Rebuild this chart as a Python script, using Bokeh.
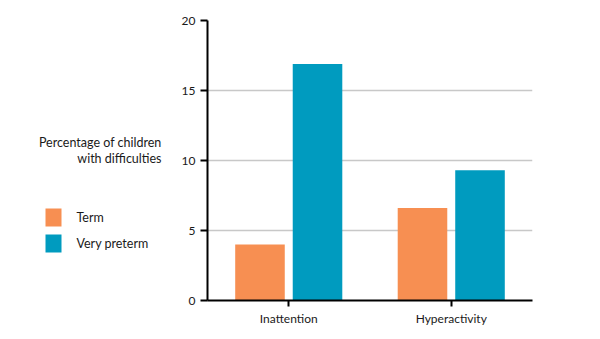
from bokeh.plotting import figure
from bokeh.layouts import row
from bokeh.models import ColumnDataSource, FactorRange, Range1d
from bokeh.core.properties import value
from bokeh.transform import dodge
from bokeh.embed import file_html
from bokeh.resources import INLINE

categories = ["Inattention", "Hyperactivity"]
term = [4.0, 6.6]
very_preterm = [16.9, 9.3]
series_names = ["Term", "Very preterm"]
colors = ["#F78F52", "#009BBF"]
y_ticks = [0, 5, 10, 15, 20]
y_title = "Percentage of children\nwith difficulties"

FONT = "Lato"
TXT = "#1a1a1a"

# ---- main chart ----
src = ColumnDataSource(dict(cat=categories, term=term, vp=very_preterm))

p = figure(width=430, height=339, x_range=FactorRange(*categories, range_padding=0),
           y_range=Range1d(0, 20), output_backend="svg", toolbar_location=None,
           min_border_left=37, min_border_right=68, min_border_top=20, min_border_bottom=39)
p.outline_line_color = None

p.vbar(x=dodge("cat", -0.177, range=p.x_range), top="term", width=0.305, source=src,
       fill_color=colors[0], line_color=None)
p.vbar(x=dodge("cat", 0.177, range=p.x_range), top="vp", width=0.305, source=src,
       fill_color=colors[1], line_color=None)

p.xgrid.grid_line_color = None
p.ygrid.grid_line_color = "#c8c8c8"
p.ygrid.grid_line_width = 1.5
p.ygrid.level = "underlay"

p.yaxis.ticker = y_ticks
p.yaxis.axis_line_width = 2
p.yaxis.axis_line_color = "black"
p.yaxis.major_tick_line_width = 2
p.yaxis.major_tick_line_color = "black"
p.yaxis.major_tick_out = 7
p.yaxis.major_tick_in = 0
p.yaxis.minor_tick_line_color = None
p.yaxis.major_label_text_font = FONT
p.yaxis.major_label_text_font_size = "12px"
p.yaxis.major_label_text_color = TXT
p.yaxis.major_label_standoff = 5

p.xaxis.axis_line_width = 2
p.xaxis.axis_line_color = "black"
p.xaxis.major_tick_line_width = 2
p.xaxis.major_tick_line_color = "black"
p.xaxis.major_tick_out = 6
p.xaxis.major_tick_in = 0
p.xaxis.major_label_text_font = FONT
p.xaxis.major_label_text_font_size = "12px"
p.xaxis.major_label_text_color = TXT
p.xaxis.major_label_standoff = 4

# ---- left panel: title + legend (frame is aligned with the chart's frame: page y 20..300) ----
q = figure(width=170, height=339, x_range=Range1d(0, 170), y_range=Range1d(300, 20),
           output_backend="svg", toolbar_location=None,
           x_axis_location=None, y_axis_location=None,
           min_border=0, min_border_left=0, min_border_right=0,
           min_border_top=20, min_border_bottom=39)
q.grid.visible = False
q.outline_line_color = None

q.text(x=[161], y=[134], text=[y_title], text_align="right", text_baseline="top",
       text_font=value(FONT), text_font_size="12.5px", text_color=TXT,
       text_line_height=1.1)

leg_src = ColumnDataSource(dict(name=series_names, color=colors,
                                top=[208, 234], bottom=[226, 252], mid=[217, 243]))
q.quad(left=45, right=61, top="top", bottom="bottom", fill_color="color",
       line_color=None, source=leg_src)
q.text(x=76, y="mid", text="name", text_baseline="middle", text_align="left",
       text_font=value(FONT), text_font_size="12.5px", text_color=TXT, source=leg_src)

layout = row(q, p, spacing=0)
open("out.html", "w").write(file_html(layout, INLINE))
